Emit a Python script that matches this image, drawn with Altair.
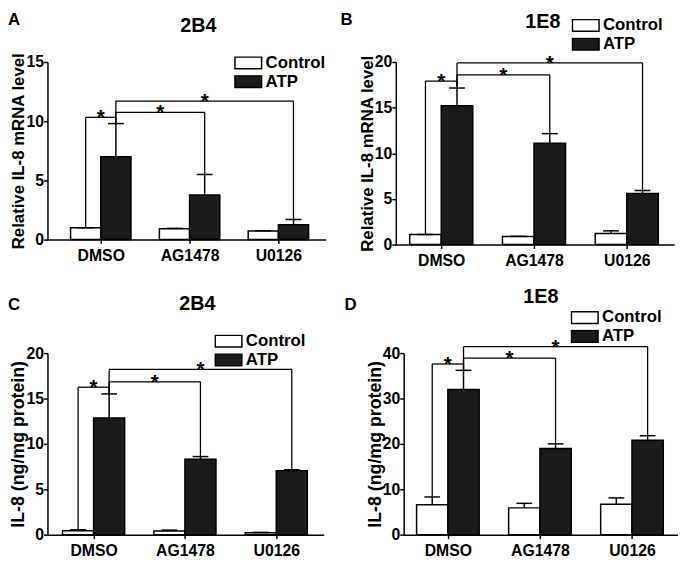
import json
import altair as alt
import pandas as pd

# ---------------- data ----------------
categories = ["DMSO", "AG1478", "U0126"]
series_names = ["Control", "ATP"]
# significance comparisons: (category1, series1, category2, series2)
comparisons = [("DMSO", "Control", "DMSO", "ATP"),
               ("DMSO", "ATP", "AG1478", "ATP"),
               ("DMSO", "ATP", "U0126", "ATP")]
star_labels = ["*", "*", "*"]

# Panel A: 2B4, relative IL-8 mRNA
a_control = [1.0, 0.92, 0.72]
a_control_top = [1.0, 0.95, 0.75]
a_atp = [7.0, 3.77, 1.25]
a_atp_top = [9.8, 5.5, 1.7]
a_levels = [10.33, 10.75, 11.7]
a_yticks = [0, 5, 10, 15]

# Panel B: 1E8, relative IL-8 mRNA
b_control = [1.1, 0.88, 1.2]
b_control_top = [1.1, 0.9, 1.5]
b_atp = [15.2, 11.1, 5.6]
b_atp_top = [17.15, 12.15, 5.92]
b_levels = [17.9, 18.6, 19.9]
b_yticks = [0, 5, 10, 15, 20]

# Panel C: 2B4, IL-8 protein
c_control = [0.43, 0.4, 0.2]
c_control_top = [0.54, 0.5, 0.25]
c_atp = [12.85, 8.3, 7.05]
c_atp_top = [15.5, 8.6, 7.15]
c_levels = [16.24, 16.84, 18.2]
c_yticks = [0, 5, 10, 15, 20]

# Panel D: 1E8, IL-8 protein
d_control = [6.6, 5.9, 6.7]
d_control_top = [8.3, 6.9, 8.1]
d_atp = [32.0, 19.0, 20.8]
d_atp_top = [36.2, 20.0, 21.8]
d_levels = [37.6, 38.9, 41.4]
d_yticks = [0, 10, 20, 30, 40]

# ---------------- styling / layout ----------------
FONT = "Liberation Sans"
BW = 0.34  # bar width in group units
FILLS = ["white", "#1b1b1b"]
RECT_PATH = "M-1,-0.44L1,-0.44L1,0.44L-1,0.44Z"

panels = [
    dict(letter="A", title="2B4", ytitle="Relative IL-8 mRNA level", ytitle_size=17,
         ctrl=a_control, ctrl_top=a_control_top, atp=a_atp, atp_top=a_atp_top,
         levels=a_levels, yticks=a_yticks,
         w=282, h=180, xdom=[-0.6, 2.533],
         letter_xy=(-40, -50), title_xy=(153, -46), legend_xy=(189, -6)),
    dict(letter="B", title="1E8", ytitle="Relative IL-8 mRNA level", ytitle_size=17,
         ctrl=b_control, ctrl_top=b_control_top, atp=b_atp, atp_top=b_atp_top,
         levels=b_levels, yticks=b_yticks,
         w=282, h=185, xdom=[-0.49, 2.51],
         letter_xy=(-56, -50), title_xy=(149, -50), legend_xy=(178, -44)),
    dict(letter="C", title="2B4", ytitle="IL-8 (ng/mg protein)", ytitle_size=18,
         ctrl=c_control, ctrl_top=c_control_top, atp=c_atp, atp_top=c_atp_top,
         levels=c_levels, yticks=c_yticks,
         w=280, h=184, xdom=[-0.505, 2.52],
         letter_xy=(-40, -57), title_xy=(152, -60), legend_xy=(169, -19)),
    dict(letter="D", title="1E8", ytitle="IL-8 (ng/mg protein)", ytitle_size=18,
         ctrl=d_control, ctrl_top=d_control_top, atp=d_atp, atp_top=d_atp_top,
         levels=d_levels, yticks=d_yticks,
         w=278, h=184, xdom=[-0.48, 2.50],
         letter_xy=(-60, -57), title_xy=(139, -67), legend_xy=(169, -43)),
]


def build_panel(p):
    rows = []
    for gi, cat in enumerate(categories):
        for s, vals, tops in (("Control", p["ctrl"], p["ctrl_top"]),
                              ("ATP", p["atp"], p["atp_top"])):
            xl = gi - BW if s == "Control" else gi
            rows.append(dict(category=cat, series=s, value=vals[gi], top=tops[gi],
                             xl=xl, xr=xl + BW, xc=xl + BW / 2))
    df = pd.DataFrame(rows)

    def bar(cat, s):
        return df[(df.category == cat) & (df.series == s)].iloc[0]

    brk, legs = [], []
    for (c1, s1, c2, s2), lvl, lab in zip(comparisons, p["levels"], star_labels):
        a, b = bar(c1, s1), bar(c2, s2)
        brk.append(dict(xa=a.xc, xb=b.xc, xm=(a.xc + b.xc) / 2, level=lvl, mark=lab))
        legs.append(dict(x=a.xc, y=lvl, y2=a.top))
        legs.append(dict(x=b.xc, y=lvl, y2=b.top))
    brk = pd.DataFrame(brk)
    legs = pd.DataFrame(legs)

    xscale = alt.Scale(domain=p["xdom"], nice=False, zero=False)
    yscale = alt.Scale(domain=[p["yticks"][0], p["yticks"][-1]], nice=False, zero=False)
    label_expr = json.dumps(categories) + "[datum.value]"
    xaxis = alt.Axis(title=None, values=[0, 1, 2], labelExpr=label_expr, labelFlush=False,
                     labelOverlap=False, labelAngle=0, labelPadding=4)
    yaxis = alt.Axis(title=p["ytitle"], values=p["yticks"], labelFlush=False,
                     labelOverlap=False, labelPadding=0, titlePadding=-2,
                     titleFontSize=p["ytitle_size"])

    legend = alt.Legend(orient="none", legendX=p["legend_xy"][0], legendY=p["legend_xy"][1],
                        title=None, symbolType=RECT_PATH, symbolSize=729,
                        symbolStrokeColor="black", symbolStrokeWidth=1.5,
                        labelFont=FONT, labelFontSize=17, labelFontWeight="bold",
                        labelColor="black", labelOffset=3, clipHeight=14, rowPadding=2,
                        padding=0)

    bars = alt.Chart(df).mark_rect(stroke="black", strokeWidth=1.5).encode(
        x=alt.X("xl:Q", scale=xscale, axis=xaxis),
        x2="xr:Q",
        y=alt.Y("value:Q", scale=yscale, axis=yaxis),
        y2=alt.datum(0),
        fill=alt.Fill("series:N", scale=alt.Scale(domain=series_names, range=FILLS),
                      legend=legend),
    )
    err = alt.Chart(df).mark_rule(color="black", strokeWidth=1.5).encode(
        x=alt.X("xc:Q", scale=xscale, axis=xaxis),
        y=alt.Y("value:Q", scale=yscale, axis=yaxis),
        y2="top:Q",
    )
    caps = alt.Chart(df).mark_tick(orient="horizontal", size=16, thickness=1.5,
                                   color="black", opacity=1).encode(
        x=alt.X("xc:Q", scale=xscale, axis=xaxis),
        y=alt.Y("top:Q", scale=yscale, axis=yaxis),
    )
    hbr = alt.Chart(brk).mark_rule(color="black", strokeWidth=1.3).encode(
        x=alt.X("xa:Q", scale=xscale, axis=xaxis),
        x2="xb:Q",
        y=alt.Y("level:Q", scale=yscale, axis=yaxis),
    )
    vbr = alt.Chart(legs).mark_rule(color="black", strokeWidth=1.3).encode(
        x=alt.X("x:Q", scale=xscale, axis=xaxis),
        y=alt.Y("y:Q", scale=yscale, axis=yaxis),
        y2="y2:Q",
    )
    stars = alt.Chart(brk).mark_text(font=FONT, fontSize=21, fontWeight="bold",
                                     color="black", baseline="alphabetic", dy=7).encode(
        x=alt.X("xm:Q", scale=xscale, axis=xaxis),
        y=alt.Y("level:Q", scale=yscale, axis=yaxis),
        text="mark:N",
    )
    letter = alt.Chart(pd.DataFrame({"label": [p["letter"]]})).mark_text(
        font=FONT, fontSize=17, fontWeight="bold", color="black", align="left",
        baseline="top").encode(
        x=alt.value(p["letter_xy"][0]), y=alt.value(p["letter_xy"][1]), text="label:N")
    title = alt.Chart(pd.DataFrame({"label": [p["title"]]})).mark_text(
        font=FONT, fontSize=20, fontWeight="bold", color="black", align="center",
        baseline="top").encode(
        x=alt.value(p["title_xy"][0]), y=alt.value(p["title_xy"][1]), text="label:N")

    return alt.layer(bars, err, caps, hbr, vbr, stars, letter, title).properties(
        width=p["w"], height=p["h"])


charts = [build_panel(p) for p in panels]


def indep(c):
    return c.resolve_scale(fill="independent", x="independent", y="independent") \
            .resolve_legend(fill="independent")


row1 = indep(alt.hconcat(charts[0], charts[1], spacing=15))
row2 = indep(alt.hconcat(charts[2], charts[3], spacing=21))
chart = indep(alt.vconcat(row1, row2, spacing=19)).properties(
    padding=0
).configure_view(stroke=None).configure_axis(
    domainColor="black", domainWidth=1.5, tickColor="black", tickWidth=1.5, tickSize=4,
    labelFont=FONT, labelFontSize=16, labelFontWeight="bold", labelColor="black",
    titleFont=FONT, titleFontWeight="bold", titleColor="black", grid=False,
)

chart.save("out.html", embed_options={"renderer": "svg", "actions": False})
